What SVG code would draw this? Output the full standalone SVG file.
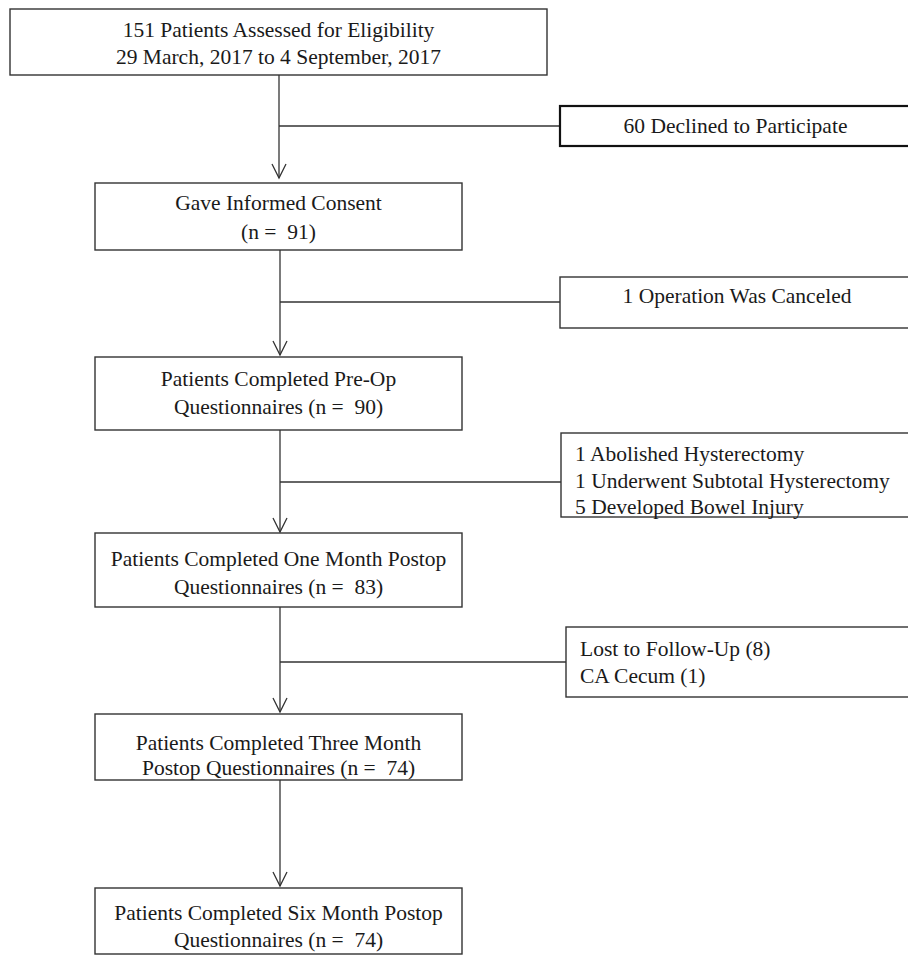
<svg xmlns="http://www.w3.org/2000/svg" width="908" height="955" viewBox="0 0 908 955">
<defs>
<marker id="arr" markerUnits="userSpaceOnUse" markerWidth="20" markerHeight="20" refX="0" refY="0" orient="auto" overflow="visible">
<path d="M -14 -7 L 0 0 L -14 7" fill="none" stroke="#333" stroke-width="1.3"/>
</marker>
</defs>
<style>
.box{fill:#fff;stroke:#333;stroke-width:1.4}
.bold{fill:#fff;stroke:#111;stroke-width:2.2}
.t{font-family:"Liberation Serif","Times New Roman",serif;font-size:21.5px;fill:#1a1a1a;white-space:pre}
.c{text-anchor:middle}
.ln{fill:none;stroke:#333;stroke-width:1.3}
</style>
<rect width="908" height="955" fill="#fff"/>
<g id="connectors">
<line class="ln" x1="279" y1="75" x2="279" y2="178" marker-end="url(#arr)"/>
<line class="ln" x1="279" y1="126" x2="560" y2="126"/>
<line class="ln" x1="280" y1="250" x2="280" y2="355" marker-end="url(#arr)"/>
<line class="ln" x1="280" y1="302" x2="560" y2="302"/>
<line class="ln" x1="280" y1="430" x2="280" y2="532" marker-end="url(#arr)"/>
<line class="ln" x1="280" y1="482" x2="561" y2="482"/>
<line class="ln" x1="280" y1="607" x2="280" y2="712" marker-end="url(#arr)"/>
<line class="ln" x1="280" y1="662" x2="566" y2="662"/>
<line class="ln" x1="280" y1="780" x2="280" y2="886" marker-end="url(#arr)"/>
</g>
<g id="n1">
<rect class="box" x="10" y="9" width="537" height="66"/>
<text class="t c" x="278.5" y="37">151 Patients Assessed for Eligibility</text>
<text class="t c" x="278.5" y="64">29 March, 2017 to 4 September, 2017</text>
</g>
<g id="n_declined">
<rect class="bold" x="560" y="106" width="360" height="40"/>
<text class="t c" x="735.5" y="133">60 Declined to Participate</text>
</g>
<g id="n2">
<rect class="box" x="95" y="183" width="367" height="67"/>
<text class="t c" x="278.5" y="210">Gave Informed Consent</text>
<text class="t c" x="278.5" y="239" xml:space="preserve">(n =  91)</text>
</g>
<g id="n_canceled">
<rect class="box" x="560" y="277" width="360" height="51"/>
<text class="t c" x="737" y="303">1 Operation Was Canceled</text>
</g>
<g id="n3">
<rect class="box" x="95" y="357" width="367" height="73"/>
<text class="t c" x="278.5" y="386">Patients Completed Pre-Op</text>
<text class="t c" x="278.5" y="414" xml:space="preserve">Questionnaires (n =  90)</text>
</g>
<g id="n_excluded">
<rect class="box" x="561" y="433" width="360" height="84"/>
<text class="t" x="575" y="461">1 Abolished Hysterectomy</text>
<text class="t" x="575" y="488">1 Underwent Subtotal Hysterectomy</text>
<text class="t" x="575" y="514">5 Developed Bowel Injury</text>
</g>
<g id="n4">
<rect class="box" x="95" y="533" width="367" height="74"/>
<text class="t c" x="278.5" y="566">Patients Completed One Month Postop</text>
<text class="t c" x="278.5" y="594" xml:space="preserve">Questionnaires (n =  83)</text>
</g>
<g id="n_lost">
<rect class="box" x="566" y="627" width="360" height="70"/>
<text class="t" x="580" y="656">Lost to Follow-Up (8)</text>
<text class="t" x="580" y="683">CA Cecum (1)</text>
</g>
<g id="n5">
<rect class="box" x="95" y="714" width="367" height="66"/>
<text class="t c" x="278.5" y="750">Patients Completed Three Month</text>
<text class="t c" x="278.5" y="775" xml:space="preserve">Postop Questionnaires (n =  74)</text>
</g>
<g id="n6">
<rect class="box" x="95" y="888" width="367" height="66"/>
<text class="t c" x="278.5" y="920">Patients Completed Six Month Postop</text>
<text class="t c" x="278.5" y="947" xml:space="preserve">Questionnaires (n =  74)</text>
</g>
</svg>
